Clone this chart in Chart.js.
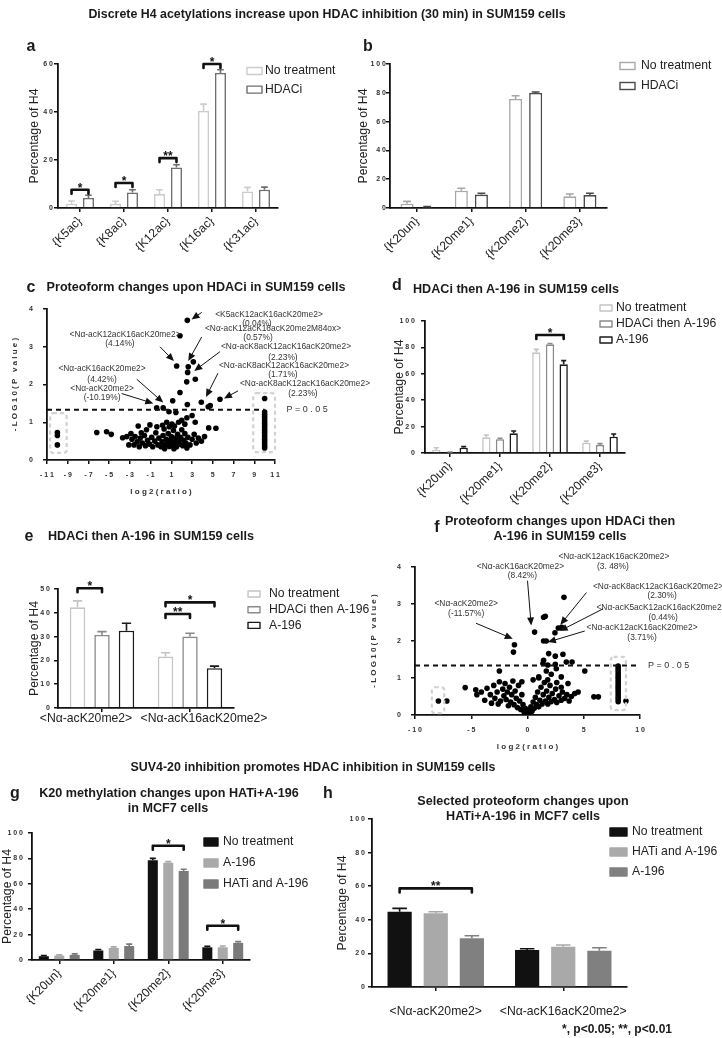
<!DOCTYPE html>
<html>
<head>
<meta charset="utf-8">
<script src="https://cdn.jsdelivr.net/npm/chart.js@4.4.1/dist/chart.umd.min.js"></script>
<style>
  body { margin: 0; background: #fff; }
  #page { position: relative; width: 722px; height: 1038px; overflow: hidden; background: #fff;
          font-family: "Liberation Sans", Arial, Helvetica, sans-serif; color: #1a1a1a; }
  #page canvas { position: absolute; left: 0; top: 0; }
  .t { position: absolute; white-space: nowrap; line-height: 1; transform: translate(-50%, -50%); }
  .b { font-weight: bold; }
  .letter { font-weight: bold; font-size: 16px; }
  .head { font-weight: bold; font-size: 12.4px; }
  .ttl { font-weight: bold; font-size: 12.6px; }
</style>
</head>
<body>
<div id="page">
  <canvas id="chartA" width="722" height="1038"></canvas>
  <canvas id="chartB" width="722" height="1038"></canvas>
  <canvas id="chartC" width="722" height="1038"></canvas>
  <canvas id="chartD" width="722" height="1038"></canvas>
  <canvas id="chartE" width="722" height="1038"></canvas>
  <canvas id="chartF" width="722" height="1038"></canvas>
  <canvas id="chartG" width="722" height="1038"></canvas>
  <canvas id="chartH" width="722" height="1038"></canvas>

  <div class="t head" style="left:327px; top:14px;">Discrete H4 acetylations increase upon HDAC inhibition (30 min) in SUM159 cells</div>
  <div class="t letter" style="left:31px; top:46px;">a</div>
  <div class="t letter" style="left:368px; top:46px;">b</div>
  <div class="t letter" style="left:31px; top:287px;">c</div>
  <div class="t ttl" style="left:196px; top:287px;">Proteoform changes upon HDACi in SUM159 cells</div>
  <div class="t letter" style="left:397px; top:285px;">d</div>
  <div class="t ttl" style="left:516px; top:289px;">HDACi then A-196 in SUM159 cells</div>
  <div class="t letter" style="left:29px; top:536px;">e</div>
  <div class="t ttl" style="left:151px; top:536px;">HDACi then A-196 in SUM159 cells</div>
  <div class="t letter" style="left:437px; top:527px;">f</div>
  <div class="t ttl" style="left:560px; top:521px;">Proteoform changes upon HDACi then</div>
  <div class="t ttl" style="left:560px; top:536px;">A-196 in SUM159 cells</div>
  <div class="t head" style="left:313px; top:767px;">SUV4-20 inhibition promotes HDAC inhibition in SUM159 cells</div>
  <div class="t letter" style="left:15px; top:793px;">g</div>
  <div class="t ttl" style="left:169px; top:793px;">K20 methylation changes upon HATi+A-196</div>
  <div class="t ttl" style="left:168px; top:808px;">in MCF7 cells</div>
  <div class="t letter" style="left:328px; top:793px;">h</div>
  <div class="t ttl" style="left:523px; top:801px;">Selected proteoform changes upon</div>
  <div class="t ttl" style="left:523px; top:816px;">HATi+A-196 in MCF7 cells</div>
  <div class="t b" style="left:617px; top:1029px; font-size:12px;">*, p&lt;0.05; **, p&lt;0.01</div>
</div>
<script>
// ---- data ----
// a: H4 acetylation sites
const aLabels = ['{K5ac}', '{K8ac}', '{K12ac}', '{K16ac}', '{K31ac}'];
const aNoTreatment = [1.8, 1.7, 5.8, 40.5, 6.9];
const aNoTreatmentErr = [1.1, 1.1, 1.8, 2.8, 1.7];
const aHdaci = [4.2, 6.5, 16.9, 56.3, 7.6];
const aHdaciErr = [1.1, 1.1, 1.1, 1.3, 1.1];

// b: K20 methylation
const k20Labels = ['{K20un}', '{K20me1}', '{K20me2}', '{K20me3}'];
const bNoTreatment = [3.0, 12.0, 75.7, 8.1];
const bNoTreatmentErr = [1.6, 1.7, 2.3, 1.6];
const bHdaci = [0.7, 9.3, 79.9, 9.0];
const bHdaciErr = [0.3, 0.9, 0.7, 1.2];

// d: K20 methylation, HDACi then A-196
const dNoTreatment = [2.3, 11.9, 76.3, 7.8];
const dNoTreatmentErr = [1.7, 1.7, 2.2, 1.2];
const dHdaciA196 = [0.5, 10.4, 82.3, 6.1];
const dHdaciA196Err = [0.3, 0.7, 0.7, 1.0];
const dA196 = [4.0, 14.9, 67.2, 12.4];
const dA196Err = [0.8, 1.8, 2.8, 2.0];

// e: selected proteoforms
const proteoformLabels = ['<Nα-acK20me2>', '<Nα-acK16acK20me2>'];
const eNoTreatment = [42.3, 21.6];
const eNoTreatmentErr = [2.7, 1.6];
const eHdaciA196 = [30.7, 30.0];
const eHdaciA196Err = [1.4, 1.4];
const eA196 = [32.5, 16.7];
const eA196Err = [3.1, 0.9];

// g: MCF7 K20 methylation
const gNoTreatment = [3.0, 7.5, 78.5, 10.0];
const gNoTreatmentErr = [0.5, 0.8, 1.5, 0.8];
const gA196 = [3.5, 9.5, 76.5, 10.0];
const gA196Err = [0.5, 0.8, 1.0, 1.0];
const gHatiA196 = [4.0, 11.0, 70.0, 13.5];
const gHatiA196Err = [0.8, 1.5, 1.5, 1.0];

// h: MCF7 selected proteoforms
const hNoTreatment = [44.8, 22.0];
const hNoTreatmentErr = [2.0, 0.8];
const hHatiA196 = [43.9, 24.0];
const hHatiA196Err = [0.9, 1.0];
const hA196 = [29.0, 21.6];
const hA196Err = [1.5, 1.8];

// c: volcano, HDACi vs control  [log2 ratio, -log10 p]
const cSignificant = [[2.54,3.70],[1.83,3.29],[1.51,2.49],[2.63,2.47],[3.12,2.60],[2.57,2.32],[3.31,2.14],
  [2.48,2.07],[1.83,1.79],[1.13,1.57],[2.54,1.47],[3.89,1.53],[4.56,1.41],[4.75,1.44],[5.69,1.61],
  [-0.42,1.38],[0.21,1.38],[0.77,1.28],[1.44,1.26]];
const cOther = [[2.0,1.05],[2.5,1.12],[3.0,1.18],[2.3,0.95],[1.3,0.90],[0.8,0.88],[1.7,1.00],[3.3,1.00],
  [-6.2,0.73],[-5.25,0.75],[-4.8,0.68],[-3.7,0.59],[-3.1,0.40],[-2.2,0.90],[-1.07,0.93],
  [-2.8,0.55],[-2.5,0.62],[-2.3,0.48],[-2.0,0.58],[-1.8,0.45],[-1.6,0.65],[-1.5,0.38],[-1.3,0.52],
  [-1.1,0.42],[-0.9,0.60],[-0.8,0.35],[-0.6,0.50],[-0.5,0.72],[-0.3,0.40],[-0.2,0.58],[0.0,0.35],
  [0.1,0.48],[0.2,0.65],[0.3,0.82],[0.4,0.38],[0.5,0.55],[0.6,0.44],[0.7,0.70],[0.8,0.36],[0.9,0.52],
  [1.0,0.62],[1.1,0.40],[1.2,0.78],[1.3,0.46],[1.4,0.58],[1.5,0.35],[1.6,0.68],[1.7,0.50],[1.8,0.42],
  [1.9,0.60],[2.0,0.80],[2.1,0.38],[2.2,0.52],[2.3,0.70],[2.4,0.45],[2.6,0.60],[2.8,0.40],[3.0,0.55],
  [3.2,0.68],[3.4,0.45],[3.6,0.58],[3.9,0.50],[4.2,0.62],[-2.6,0.40],[-2.1,0.35],[-1.4,0.80],
  [-0.4,0.88],[0.15,0.92],[0.55,1.00],[1.05,0.95],[-3.3,0.62],[-2.9,0.70],[4.6,0.85],[5.3,0.84],
  [-1.9,0.72],[0.35,0.30],[1.25,0.30],[2.5,0.32]];
const cLeftStack = [[-10,0.73],[-10,0.65],[-10,0.40]];
const cRightStack = [[10,1.63],[10,1.27],[10,1.21],[10,1.15],[10,1.09],[10,1.03],[10,0.97],[10,0.91],
  [10,0.85],[10,0.79],[10,0.73],[10,0.67],[10,0.61],[10,0.55],[10,0.49],[10,0.43],[10,0.37],[10,0.32]];

// f: volcano, HDACi then A-196 vs control
const fSignificant = [[3.24,3.18],[1.43,2.64],[1.58,2.67],[0.63,2.24],[2.44,2.22],[2.74,2.35],[3.04,2.37],
  [1.43,2.00],[1.67,2.00],[-1.16,1.90],[-1.25,1.70],[1.88,1.66],[2.47,1.59],[3.15,1.64],[3.45,1.43],
  [3.96,1.43],[1.37,1.39],[1.80,1.35],[2.47,1.37],[1.43,1.48]];
const fOther = [[-2.5,1.19],[1.67,1.19],[2.11,1.10],[2.56,1.25],[3.0,1.03],[5.09,1.19],[1.0,1.03],
  [-5.54,0.74],[-4.6,0.68],[-4.5,0.55],[-4.1,0.62],[-3.8,0.40],[-3.6,0.72],[-3.3,0.55],[-3.0,0.80],
  [-2.9,0.45],[-2.7,0.62],[-2.5,0.90],[-2.4,0.38],[-2.2,0.70],[-2.1,0.52],[-2.0,0.85],[-1.9,0.42],
  [-1.8,0.62],[-1.6,0.75],[-1.5,0.35],[-1.4,0.55],[-1.3,0.92],[-1.2,0.28],[-1.1,0.65],[-1.0,0.45],
  [-0.9,0.20],[-0.8,0.80],[-0.7,0.38],[-0.6,0.15],[-0.5,0.55],[-0.4,0.28],[-0.3,0.08],[-0.2,0.18],
  [-0.1,0.04],[0.0,0.02],[0.1,0.06],[0.2,0.14],[0.3,0.22],[0.4,0.10],[0.5,0.35],[0.6,0.18],[0.7,0.48],
  [0.8,0.28],[0.9,0.62],[1.0,0.22],[1.1,0.40],[1.2,0.75],[1.3,0.30],[1.4,0.55],[1.5,0.88],[1.6,0.38],
  [1.7,0.65],[1.8,0.30],[1.9,0.48],[2.0,0.80],[2.1,0.36],[2.2,0.58],[2.4,0.42],[2.5,0.70],[2.6,0.34],
  [2.8,0.52],[3.0,0.40],[3.1,0.62],[3.3,0.45],[3.5,0.55],[3.7,0.38],[3.9,0.50],[4.2,0.58],[4.5,0.62],
  [5.9,0.49],[6.3,0.49],[-2.6,0.30],[-1.7,0.25],[0.5,0.95],[1.0,1.00],[1.8,0.95],[2.6,0.88],
  [-0.5,0.90],[-3.2,0.32],[3.0,0.75],[3.6,0.85]];
const fLeftStack = [[-7.92,0.38],[-7.17,0.38]];
const fRightStack = [[8.06,1.32],[8.06,1.26],[8.06,1.20],[8.06,1.14],[8.06,1.08],[8.06,1.02],[8.06,0.96],
  [8.06,0.90],[8.06,0.84],[8.06,0.78],[8.06,0.72],[8.06,0.66],[8.06,0.60],[8.06,0.54],[8.06,0.48],
  [8.06,0.42],[8.06,0.36],[8.75,0.38]];

// ---- helpers ----
const FONT = '"Liberation Sans", Arial, Helvetica, sans-serif';
Chart.defaults.font.family = FONT;
Chart.defaults.color = '#222';
const W = 722, H = 1038;
const spaced = v => String(v).split('').join(' ');
const tickFont = { size: 7, weight: 'bold' };

// padding so the plot area lands where the reference has it
function frame(box) {
  const yLH = box.yTitleSize * 1.2;
  const left = box.yTitleX - yLH / 2;
  let bottom, xH;
  if (box.xTitleY) {
    const xLH = box.xTitleSize * 1.2;
    bottom = H - (box.xTitleY + xLH / 2);
    xH = box.xTitleY + xLH / 2 - box.b;
  } else {
    xH = Math.min(70, H - box.b);
    bottom = H - box.b - xH;
  }
  return { padding: { left: left, top: box.t, right: W - box.r, bottom: bottom }, yW: box.l - left, xH: xH };
}

function arrow(ctx, x1, y1, x2, y2) {
  const a = Math.atan2(y2 - y1, x2 - x1);
  ctx.beginPath();
  ctx.moveTo(x1, y1);
  ctx.lineTo(x2 - 6 * Math.cos(a), y2 - 6 * Math.sin(a));
  ctx.stroke();
  ctx.beginPath();
  ctx.moveTo(x2, y2);
  ctx.lineTo(x2 - 8 * Math.cos(a) + 3.5 * Math.sin(a), y2 - 8 * Math.sin(a) - 3.5 * Math.cos(a));
  ctx.lineTo(x2 - 8 * Math.cos(a) - 3.5 * Math.sin(a), y2 - 8 * Math.sin(a) + 3.5 * Math.cos(a));
  ctx.closePath();
  ctx.fill();
}

function extras(deco) {
  return {
    id: 'extras',
    afterDraw(chart) {
      const ctx = chart.ctx;
      const xs = chart.scales.x, ys = chart.scales.y;
      const px = v => xs.getPixelForValue(v), py = v => ys.getPixelForValue(v);
      ctx.save();

      // error bars (upper whisker only)
      chart.data.datasets.forEach((ds, i) => {
        if (!ds.errors) return;
        ctx.strokeStyle = ds.borderColor;
        ctx.lineWidth = 1.6;
        chart.getDatasetMeta(i).data.forEach((bar, j) => {
          const top = py(ds.data[j] + ds.errors[j]);
          const cap = bar.width * 0.3;
          ctx.beginPath();
          ctx.moveTo(bar.x, bar.y);
          ctx.lineTo(bar.x, top);
          ctx.moveTo(bar.x - cap, top);
          ctx.lineTo(bar.x + cap, top);
          ctx.stroke();
        });
      });

      // category labels that sit off-centre in the reference
      if (deco.labelShift) {
        ctx.fillStyle = '#222';
        ctx.font = '12.2px ' + FONT;
        ctx.textAlign = 'center';
        ctx.textBaseline = 'middle';
        chart.data.labels.forEach((lab, i) => {
          ctx.fillText(lab, xs.getPixelForTick(i) + deco.labelShift[i], xs.top + 11);
        });
      }

      // significance brackets
      (deco.brackets || []).forEach(br => {
        const x1 = chart.getDatasetMeta(br.from).data[br.group].x;
        const x2 = chart.getDatasetMeta(br.to).data[br.group].x;
        const y = py(br.value);
        ctx.strokeStyle = '#111';
        ctx.lineWidth = 2.6;
        ctx.lineJoin = 'round';
        ctx.lineCap = 'round';
        ctx.beginPath();
        ctx.moveTo(x1, y + 4);
        ctx.lineTo(x1, y);
        ctx.lineTo(x2, y);
        ctx.lineTo(x2, y + 4);
        ctx.stroke();
        ctx.fillStyle = '#111';
        ctx.font = 'bold 12px ' + FONT;
        ctx.textAlign = 'center';
        ctx.textBaseline = 'alphabetic';
        ctx.fillText(br.text, (x1 + x2) / 2, y + 2);
      });

      // legend
      if (deco.legend) {
        const lg = deco.legend;
        ctx.font = '12.2px ' + FONT;
        ctx.textAlign = 'left';
        ctx.textBaseline = 'middle';
        chart.data.datasets.forEach((ds, i) => {
          const y = lg.y + i * lg.gap;
          ctx.fillStyle = ds.backgroundColor;
          ctx.fillRect(lg.x, y - lg.boxH / 2, lg.boxW, lg.boxH);
          ctx.strokeStyle = ds.borderColor;
          ctx.lineWidth = 1.4;
          ctx.strokeRect(lg.x, y - lg.boxH / 2, lg.boxW, lg.boxH);
          ctx.fillStyle = '#222';
          ctx.fillText(ds.label, lg.textX, y);
        });
      }

      // volcano decorations
      if (deco.cutoff) {
        ctx.strokeStyle = '#111';
        ctx.lineWidth = 2;
        ctx.setLineDash([5, 4]);
        ctx.beginPath();
        ctx.moveTo(px(xs.min), py(deco.cutoff.value));
        ctx.lineTo(px(deco.cutoff.to), py(deco.cutoff.value));
        ctx.stroke();
        ctx.setLineDash([4, 3]);
        ctx.strokeStyle = '#d2d2d2';
        ctx.lineWidth = 2.2;
        deco.boxes.forEach(bx => {
          ctx.beginPath();
          ctx.roundRect(px(bx.x1), py(bx.y1), px(bx.x2) - px(bx.x1), py(bx.y2) - py(bx.y1), 3);
          ctx.stroke();
        });
        ctx.setLineDash([]);
        ctx.fillStyle = '#333';
        ctx.font = '9px ' + FONT;
        ctx.textAlign = 'left';
        ctx.textBaseline = 'middle';
        ctx.fillText('P = 0 . 0 5', px(deco.cutoff.labelX), py(deco.cutoff.value));
      }
      if (deco.notes) {
        ctx.fillStyle = '#333';
        ctx.font = '8.4px ' + FONT;
        ctx.textBaseline = 'middle';
        deco.notes.forEach(n => {
          ctx.textAlign = n.left ? 'left' : 'center';
          ctx.fillText(n.t, px(n.x), py(n.y));
        });
        ctx.strokeStyle = '#111';
        ctx.fillStyle = '#111';
        ctx.lineWidth = 1;
        deco.arrows.forEach(a => arrow(ctx, px(a[0]), py(a[1]), px(a[2]), py(a[3])));
      }
      ctx.restore();
    }
  };
}

function axisGrid() {
  return { offset: false, drawOnChartArea: false, drawTicks: true, tickLength: 4, color: '#111', lineWidth: 1.5 };
}

function barSet(label, data, errors, stroke, fill, cat, barPct) {
  return {
    label: label, data: data, errors: errors,
    borderColor: stroke, backgroundColor: fill,
    borderWidth: fill === '#ffffff' ? 1.6 : 0,
    categoryPercentage: cat, barPercentage: barPct
  };
}

function barChart(id, box, labels, sets, yMax, yStep, deco) {
  const f = frame(box);
  return new Chart(document.getElementById(id), {
    type: 'bar',
    data: { labels: labels, datasets: sets },
    options: {
      responsive: false,
      animation: false,
      layout: { padding: f.padding },
      plugins: { legend: { display: false }, tooltip: { enabled: false } },
      scales: {
        x: {
          grid: axisGrid(),
          border: { color: '#111', width: 1.8 },
          ticks: { display: !deco.labelShift, font: { size: 12.2 }, color: '#222', autoSkip: false,
                   minRotation: deco.rotate, maxRotation: deco.rotate, padding: deco.labelPad },
          afterFit: s => { s.height = f.xH; }
        },
        y: {
          min: 0, max: yMax,
          grid: axisGrid(),
          border: { color: '#111', width: 1.8 },
          ticks: { stepSize: yStep, font: tickFont, color: '#333', padding: box.tickPad, callback: spaced },
          title: { display: true, text: 'Percentage of H4', font: { size: 12.2 }, color: '#222', padding: 0 },
          afterFit: s => { s.width = f.yW; }
        }
      }
    },
    plugins: [extras(deco)]
  });
}

function volcano(id, box, groups, xMin, xMax, xStep, deco) {
  const f = frame(box);
  const pts = [].concat(...groups).map(p => ({ x: p[0], y: p[1] }));
  return new Chart(document.getElementById(id), {
    type: 'scatter',
    data: { datasets: [{ data: pts, pointRadius: 2.8, backgroundColor: '#000', borderWidth: 0 }] },
    options: {
      responsive: false,
      animation: false,
      layout: { padding: f.padding },
      plugins: { legend: { display: false }, tooltip: { enabled: false } },
      scales: {
        x: {
          type: 'linear', min: xMin, max: xMax,
          grid: axisGrid(),
          border: { color: '#111', width: 1.8 },
          ticks: { stepSize: xStep, font: tickFont, color: '#333', padding: 6.5, callback: spaced },
          title: { display: true, text: 'l o g 2 ( r a t i o )', font: { size: 8, weight: 'bold' }, color: '#333', padding: 0 },
          afterFit: s => { s.height = f.xH; }
        },
        y: {
          min: 0, max: 4,
          grid: axisGrid(),
          border: { color: '#111', width: 1.8 },
          ticks: { stepSize: 1, font: tickFont, color: '#333', padding: 10, callback: spaced },
          title: { display: true, text: '- L O G 1 0 ( P   v a l u e )', font: { size: 8, weight: 'bold' }, color: '#333', padding: 0 },
          afterFit: s => { s.width = f.yW; }
        }
      }
    },
    plugins: [extras(deco)]
  });
}

const WHITE = '#ffffff';

// a
barChart('chartA', { l: 58, t: 64, r: 278, b: 208, yTitleX: 35, yTitleSize: 12.2, tickPad: 1 }, aLabels, [
  barSet('No treatment', aNoTreatment, aNoTreatmentErr, '#cccccc', WHITE, 0.77, 0.65),
  barSet('HDACi', aHdaci, aHdaciErr, '#6e6e6e', WHITE, 0.77, 0.65)
], 60, 20, {
  rotate: 45, labelPad: 2,
  legend: { x: 247, y: 71, gap: 18.6, boxW: 15, boxH: 7, textX: 265 },
  brackets: [
    { group: 0, from: 0, to: 1, value: 7.6, text: '*' },
    { group: 1, from: 0, to: 1, value: 10.4, text: '*' },
    { group: 2, from: 0, to: 1, value: 20.8, text: '**' },
    { group: 3, from: 0, to: 1, value: 60, text: '*' }
  ]
});

// b
barChart('chartB', { l: 390, t: 64, r: 607, b: 208, yTitleX: 364, yTitleSize: 12.2, tickPad: 0 }, k20Labels, [
  barSet('No treatment', bNoTreatment, bNoTreatmentErr, '#a8a8a8', WHITE, 0.74, 0.65),
  barSet('HDACi', bHdaci, bHdaciErr, '#4a4a4a', WHITE, 0.74, 0.65)
], 100, 20, {
  rotate: 45, labelPad: 2,
  legend: { x: 620, y: 66, gap: 20, boxW: 15, boxH: 7, textX: 641 }
});

// c
volcano('chartC', { l: 47, t: 309, r: 275, b: 460, yTitleX: 15, yTitleSize: 8, xTitleY: 492, xTitleSize: 8 },
  [cSignificant, cOther, cLeftStack, cRightStack], -11, 11, 2, {
  cutoff: { value: 1.33, to: 10, labelX: 12.1 },
  boxes: [{ x1: -10.7, x2: -9.1, y1: 1.24, y2: 0.19 }, { x1: 8.9, x2: 11, y1: 1.77, y2: 0.21 }],
  notes: [
    { t: '<K5acK12acK16acK20me2>', x: 10.42, y: 3.84 }, { t: '(0.04%)', x: 9.26, y: 3.60 },
    { t: '<Nα-acK12acK16acK20me2M84ox>', x: 10.81, y: 3.47 }, { t: '(0.57%)', x: 9.36, y: 3.23 },
    { t: '<Nα-acK8acK12acK16acK20me2>', x: 12.06, y: 2.99 }, { t: '(2.23%)', x: 11.77, y: 2.72 },
    { t: '<Nα-acK8acK12acK16acK20me2>', x: 11.87, y: 2.49 }, { t: '(1.71%)', x: 11.77, y: 2.25 },
    { t: '<Nα-acK8acK12acK16acK20me2>', x: 7.62, y: 2.01, left: true }, { t: '(2.23%)', x: 13.7, y: 1.77 },
    { t: '<Nα-acK12acK16acK20me2>', x: -3.47, y: 3.31 }, { t: '(4.14%)', x: -3.96, y: 3.07 },
    { t: '<Nα-acK16acK20me2>', x: -5.69, y: 2.41 }, { t: '(4.42%)', x: -5.69, y: 2.14 },
    { t: '<Nα-acK20me2>', x: -5.69, y: 1.90 }, { t: '(-10.19%)', x: -5.69, y: 1.64 }
  ],
  arrows: [
    [3.93, 3.91, 2.95, 3.72], [3.93, 3.26, 2.63, 2.62], [5.69, 2.87, 3.21, 2.36], [5.5, 2.30, 4.34, 1.67],
    [7.43, 1.83, 6.08, 1.63], [-0.10, 3.0, 1.25, 2.62], [-2.34, 2.14, 0.22, 1.52], [-3.79, 1.76, -0.74, 1.50]
  ]
});

// d
barChart('chartD', { l: 425, t: 321, r: 625, b: 453, yTitleX: 400, yTitleSize: 12.2, tickPad: 6 }, k20Labels, [
  barSet('No treatment', dNoTreatment, dNoTreatmentErr, '#c4c4c4', WHITE, 0.82, 0.61),
  barSet('HDACi then A-196', dHdaciA196, dHdaciA196Err, '#8a8a8a', WHITE, 0.82, 0.61),
  barSet('A-196', dA196, dA196Err, '#1a1a1a', WHITE, 0.82, 0.61)
], 100, 20, {
  rotate: 45, labelPad: 2,
  legend: { x: 600, y: 308, gap: 16, boxW: 12, boxH: 6, textX: 616 },
  brackets: [{ group: 2, from: 0, to: 2, value: 89.4, text: '*' }]
});

// e
barChart('chartE', { l: 58, t: 589, r: 234, b: 708, yTitleX: 35, yTitleSize: 12.2, tickPad: 4 }, proteoformLabels, [
  barSet('No treatment', eNoTreatment, eNoTreatmentErr, '#c4c4c4', WHITE, 0.835, 0.63),
  barSet('HDACi then A-196', eHdaciA196, eHdaciA196Err, '#8a8a8a', WHITE, 0.835, 0.63),
  barSet('A-196', eA196, eA196Err, '#1a1a1a', WHITE, 0.835, 0.63)
], 50, 10, {
  rotate: 0, labelPad: 0, labelShift: [-16, 14],
  legend: { x: 248, y: 594, gap: 15.7, boxW: 12, boxH: 6, textX: 269 },
  brackets: [
    { group: 0, from: 0, to: 1, value: 50.3, text: '*' },
    { group: 1, from: 0, to: 2, value: 44.4, text: '*' },
    { group: 1, from: 0, to: 1, value: 39.5, text: '**' }
  ]
});

// f
volcano('chartF', { l: 415, t: 567, r: 640, b: 715, yTitleX: 374, yTitleSize: 8, xTitleY: 747, xTitleSize: 8 },
  [fSignificant, fOther, fLeftStack, fRightStack], -10, 10, 5, {
  cutoff: { value: 1.34, to: 10, labelX: 10.7 },
  boxes: [{ x1: -8.5, x2: -7.4, y1: 0.75, y2: 0.05 }, { x1: 7.4, x2: 8.75, y1: 1.57, y2: 0.13 }],
  notes: [
    { t: '<Nα-acK12acK16acK20me2>', x: 7.68, y: 4.28 }, { t: '(3. 48%)', x: 7.59, y: 4.0 },
    { t: '<Nα-acK16acK20me2>', x: -0.63, y: 4.01 }, { t: '(8.42%)', x: -0.45, y: 3.76 },
    { t: '<Nα-acK20me2>', x: -5.45, y: 3.01 }, { t: '(-11.57%)', x: -5.45, y: 2.74 },
    { t: '<Nα-acK8acK12acK16acK20me2>', x: 11.6, y: 3.48 }, { t: '(2.30%)', x: 11.96, y: 3.23 },
    { t: '<Nα-acK5acK12acK16acK20me2>', x: 6.13, y: 2.91, left: true }, { t: '(0.44%)', x: 12.05, y: 2.64 },
    { t: '<Nα-acK12acK16acK20me2>', x: 10.18, y: 2.37 }, { t: '(3.71%)', x: 10.18, y: 2.10 }
  ],
  arrows: [
    [0, 3.63, 0.33, 2.42], [-4.58, 2.48, -1.31, 2.06], [5.24, 3.31, 2.92, 2.44],
    [6.72, 2.87, 2.86, 2.27], [5.09, 2.27, 1.81, 1.97]
  ]
});

// g
barChart('chartG', { l: 32, t: 833, r: 250, b: 960, yTitleX: 8, yTitleSize: 12.2, tickPad: 5 }, k20Labels, [
  barSet('No treatment', gNoTreatment, gNoTreatmentErr, '#111111', '#111111', 0.85, 0.65),
  barSet('A-196', gA196, gA196Err, '#a9a9a9', '#a9a9a9', 0.85, 0.65),
  barSet('HATi and A-196', gHatiA196, gHatiA196Err, '#7a7a7a', '#7a7a7a', 0.85, 0.65)
], 100, 20, {
  rotate: 45, labelPad: 2,
  legend: { x: 204, y: 842, gap: 21, boxW: 14, boxH: 8, textX: 223 },
  brackets: [
    { group: 2, from: 0, to: 2, value: 90, text: '*' },
    { group: 3, from: 0, to: 2, value: 27, text: '*' }
  ]
});

// h
barChart('chartH', { l: 372, t: 819, r: 627, b: 987, yTitleX: 343, yTitleSize: 12.2, tickPad: 3 }, proteoformLabels, [
  barSet('No treatment', hNoTreatment, hNoTreatmentErr, '#111111', '#111111', 0.85, 0.67),
  barSet('HATi and A-196', hHatiA196, hHatiA196Err, '#a9a9a9', '#a9a9a9', 0.85, 0.67),
  barSet('A-196', hA196, hA196Err, '#808080', '#808080', 0.85, 0.67)
], 100, 20, {
  rotate: 0, labelPad: 13,
  legend: { x: 610, y: 832, gap: 20, boxW: 17, boxH: 8, textX: 632 },
  brackets: [{ group: 0, from: 0, to: 2, value: 58.7, text: '**' }]
});
</script>
</body>
</html>
